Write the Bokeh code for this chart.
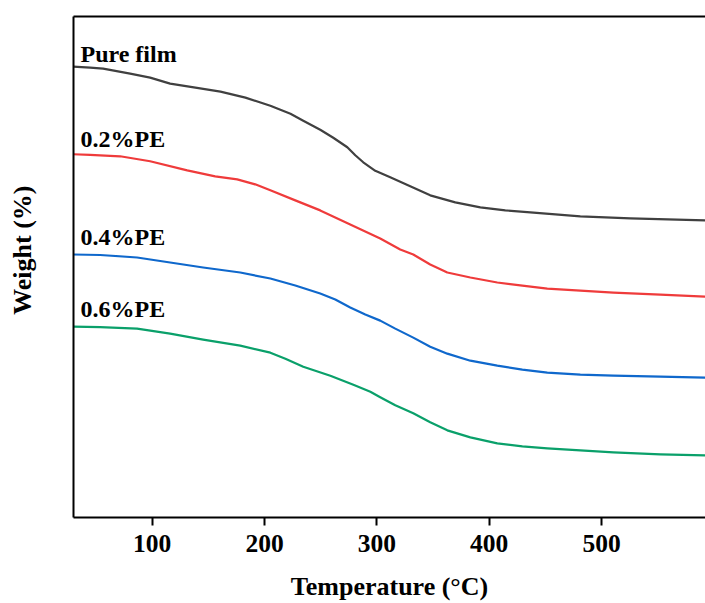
from bokeh.plotting import figure
from bokeh.models import LinearAxis, FixedTicker, Label, Range1d, Title
from bokeh.embed import file_html
from bokeh.resources import INLINE

# Temperature (°C) and relative weight (offset curves, arbitrary units)
pure_t = [29.7, 44.8, 56.4, 80.4, 98.2, 116.0, 138.5, 160.8, 183.0, 205.2, 223.1, 234.5, 249.6,
          261.2, 273.7, 280.8, 287.9, 298.6, 311.9, 329.7, 347.5, 369.8, 392.1, 414.3, 436.6,
          458.9, 481.1, 525.6, 592.4]
pure_w = [90.0, 89.8, 89.6, 88.6, 87.8, 86.6, 85.8, 85.0, 83.8, 82.2, 80.6, 79.2, 77.4,
          75.8, 73.9, 72.3, 70.9, 69.2, 67.9, 66.1, 64.3, 62.9, 61.9, 61.3, 60.9,
          60.5, 60.1, 59.7, 59.3]

pe02_t = [29.7, 44.8, 71.5, 98.2, 131.2, 156.1, 175.7, 191.7, 205.2, 227.4, 249.6, 276.3, 303.0,
          320.8, 332.4, 347.5, 362.7, 383.2, 407.2, 429.5, 451.7, 481.1, 510.5, 552.3, 592.4]
pe02_w = [72.5, 72.4, 72.1, 71.1, 69.3, 68.1, 67.5, 66.5, 65.3, 63.3, 61.3, 58.5, 55.7,
          53.5, 52.5, 50.5, 48.9, 47.9, 46.9, 46.3, 45.7, 45.3, 44.9, 44.5, 44.1]

pe04_t = [29.7, 53.7, 86.6, 116.0, 145.4, 178.4, 205.2, 227.4, 249.6, 263.0, 276.3, 289.7, 303.0,
          316.4, 332.4, 347.5, 362.7, 383.2, 407.2, 429.5, 451.7, 481.1, 510.5, 552.3, 592.4]
pe04_w = [52.5, 52.4, 51.9, 50.9, 49.9, 48.9, 47.7, 46.3, 44.7, 43.5, 41.9, 40.5, 39.3,
          37.7, 35.9, 34.1, 32.7, 31.3, 30.3, 29.5, 28.9, 28.5, 28.3, 28.1, 27.9]

pe06_t = [29.7, 53.7, 86.6, 116.0, 145.4, 178.4, 205.2, 218.6, 234.5, 258.6, 279.1, 294.2, 303.0,
          316.4, 332.4, 347.5, 362.7, 383.2, 407.2, 429.5, 451.7, 481.1, 510.5, 552.3, 592.4]
pe06_w = [38.1, 38.0, 37.7, 36.7, 35.5, 34.3, 32.9, 31.7, 30.1, 28.3, 26.5, 25.1, 24.0,
          22.4, 20.8, 19.0, 17.4, 16.0, 14.8, 14.2, 13.8, 13.4, 13.0, 12.6, 12.4]

series_names = ["Pure film", "0.2%PE", "0.4%PE", "0.6%PE"]
label_y = [92.6, 75.5, 55.9, 41.7]
x_ticks = [100, 200, 300, 400, 500]

FONT = "Liberation Serif"

p = figure(width=705, height=603, output_backend="svg", toolbar_location=None,
           x_range=Range1d(30, 592.5), y_range=Range1d(0, 100),
           min_border_left=73, min_border_right=0, min_border_top=16, min_border_bottom=86)
p.outline_line_color = None
p.xgrid.visible = False
p.ygrid.visible = False
p.background_fill_color = "white"

colors = ["#404040", "#ef3b3b", "#0f68cc", "#0aa06a"]
for t, w, c in zip([pure_t, pe02_t, pe04_t, pe06_t], [pure_w, pe02_w, pe04_w, pe06_w], colors):
    p.line(t, w, line_color=c, line_width=2.2, line_join="round")

for name, ly in zip(series_names, label_y):
    p.add_layout(Label(x=36.2, y=ly, text=name, text_font=FONT, text_font_style="bold",
                       text_font_size="24px", text_color="black", text_baseline="alphabetic",
                       text_align="left"))

xa = p.xaxis[0]
xa.ticker = FixedTicker(ticks=x_ticks)
xa.axis_line_width = 2
xa.axis_line_color = "black"
xa.major_tick_line_width = 2
xa.major_tick_in = 0
xa.major_tick_out = 8
xa.minor_tick_line_color = None
xa.major_label_text_font = FONT
xa.major_label_text_font_style = "bold"
xa.major_label_text_font_size = "25.5px"
xa.major_label_text_color = "black"
xa.major_label_standoff = 9
xa.axis_label = "Temperature (°C)"
xa.axis_label_text_font = FONT
xa.axis_label_text_font_style = "bold"
xa.axis_label_text_font_size = "26px"
xa.axis_label_text_color = "black"
xa.axis_label_standoff = 17

ya = p.yaxis[0]
ya.ticker = FixedTicker(ticks=[])
ya.minor_tick_line_color = None
ya.major_tick_line_color = None
ya.axis_line_width = 2
ya.axis_line_color = "black"
ya.major_label_text_font_size = "0px"

top = LinearAxis(ticker=FixedTicker(ticks=[]), axis_line_width=2, axis_line_color="black",
                 major_tick_line_color=None, minor_tick_line_color=None,
                 major_label_text_font_size="0px")
p.add_layout(top, "above")

# spacer panel between the axis and the y title
p.add_layout(Title(text=" ", text_font_size="1px", standoff=32), "left")
p.add_layout(Title(text="Weight (%)", align="right", vertical_align="top", offset=169, standoff=0,
                   text_font=FONT, text_font_style="bold", text_font_size="26px",
                   text_color="black"), "left")

open("out.html", "w").write(file_html(p, INLINE))
